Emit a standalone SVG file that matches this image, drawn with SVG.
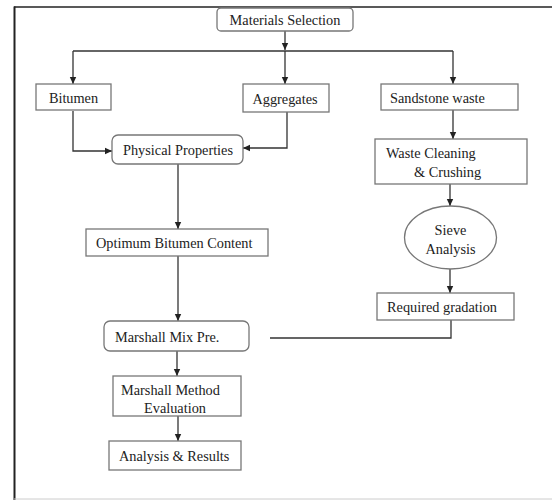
<svg xmlns="http://www.w3.org/2000/svg" width="552" height="500" viewBox="0 0 552 500">
<defs>
<marker id="ah" markerWidth="8" markerHeight="8" refX="7" refY="4" orient="auto" markerUnits="userSpaceOnUse">
<path d="M0,0.8 L7,4 L0,7.2 Z" fill="#222"/>
</marker>
<style>
.box{fill:#fff;stroke:#777;stroke-width:1.3}
.t{font-family:"Liberation Serif","Times New Roman",serif;font-size:14.3px;fill:#222}
.c{fill:none;stroke:#333;stroke-width:1.3}
.ca{fill:none;stroke:#333;stroke-width:1.3;marker-end:url(#ah)}
</style>
</defs>
<rect x="0" y="0" width="552" height="500" fill="#fff"/>
<g id="frame">
<line x1="14" y1="7" x2="552" y2="7" stroke="#222" stroke-width="1.5"/>
<line x1="14.5" y1="6.5" x2="14.5" y2="500" stroke="#222" stroke-width="2"/>
<line x1="14" y1="499" x2="552" y2="499" stroke="#ccc" stroke-width="1"/>
</g>
<g id="connectors">
<path class="ca" d="M285,31 V50"/>
<path class="c" d="M73,51 H453"/>
<path class="ca" d="M73,51 V84"/>
<path class="ca" d="M285,51 V84"/>
<path class="ca" d="M453,51 V84"/>
<path class="ca" d="M73,111 V151 H112"/>
<path class="ca" d="M287,112 V148 H243"/>
<path class="ca" d="M178,164 V229"/>
<path class="ca" d="M178,256 V321"/>
<path class="ca" d="M453,110 V139"/>
<path class="ca" d="M450,184 V206"/>
<path class="ca" d="M450,269 V293"/>
<path class="c" d="M451,320 V338 H270"/>
<path class="ca" d="M177,351 V376"/>
<path class="ca" d="M178,416 V441"/>
</g>
<g id="materials">
<rect class="box" x="217" y="8" width="136" height="23" rx="4"/>
<text class="t" x="285" y="25" text-anchor="middle">Materials Selection</text>
</g>
<g id="bitumen">
<rect class="box" x="36" y="84" width="75" height="26"/>
<text class="t" x="73.5" y="102.5" text-anchor="middle">Bitumen</text>
</g>
<g id="aggregates">
<rect class="box" x="243" y="84" width="86" height="28"/>
<text class="t" x="285" y="103.5" text-anchor="middle">Aggregates</text>
</g>
<g id="sandstone">
<rect class="box" x="381" y="84" width="137" height="26"/>
<text class="t" x="390" y="102.5">Sandstone waste</text>
</g>
<g id="physical">
<rect class="box" x="112" y="135" width="131" height="29" rx="6"/>
<text class="t" x="178" y="154.5" text-anchor="middle">Physical Properties</text>
</g>
<g id="optimum">
<rect class="box" x="86" y="229" width="182" height="27"/>
<text class="t" x="96" y="247.5">Optimum Bitumen Content</text>
</g>
<g id="waste">
<rect class="box" x="375" y="139" width="152" height="45"/>
<text class="t" x="386" y="157.5">Waste Cleaning</text>
<text class="t" x="414" y="176.5">&amp; Crushing</text>
</g>
<g id="sieve">
<ellipse class="box" cx="450.5" cy="237.5" rx="46" ry="31.5"/>
<text class="t" x="450.5" y="234.5" text-anchor="middle">Sieve</text>
<text class="t" x="450.5" y="253.5" text-anchor="middle">Analysis</text>
</g>
<g id="gradation">
<rect class="box" x="377" y="293" width="137" height="27"/>
<text class="t" x="387" y="311.5">Required gradation</text>
</g>
<g id="mixpre">
<rect class="box" x="104" y="321" width="145" height="30" rx="6"/>
<text class="t" x="115" y="341.5">Marshall Mix Pre.</text>
</g>
<g id="method">
<rect class="box" x="113" y="376" width="128" height="40"/>
<text class="t" x="121" y="394.5">Marshall Method</text>
<text class="t" x="144" y="412.5">Evaluation</text>
</g>
<g id="results">
<rect class="box" x="109" y="441" width="132" height="29"/>
<text class="t" x="119" y="460.5">Analysis &amp; Results</text>
</g>
</svg>
